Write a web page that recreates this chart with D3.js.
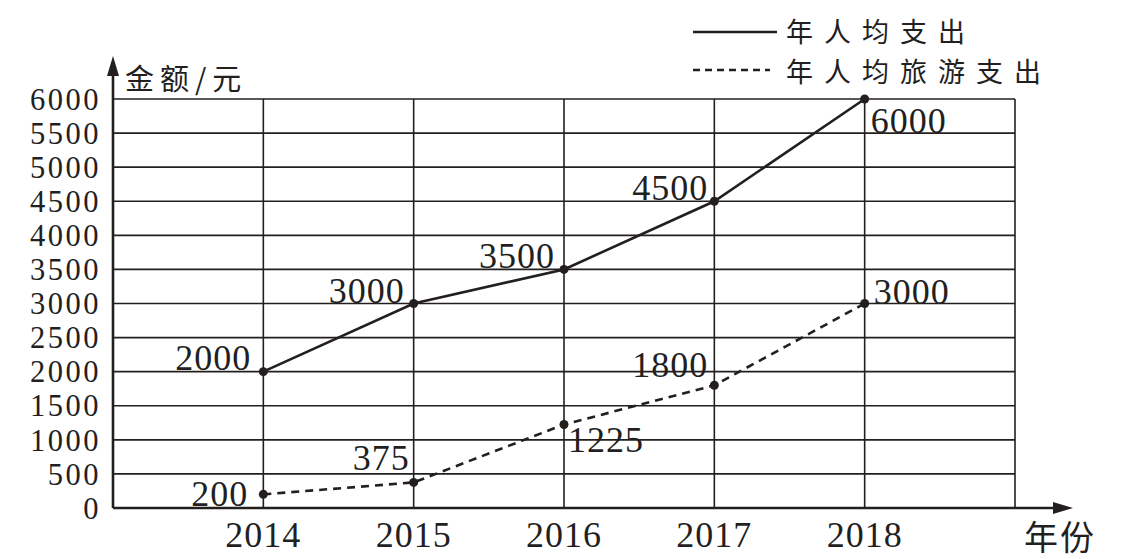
<!DOCTYPE html>
<html><head><meta charset="utf-8">
<script src="https://cdn.jsdelivr.net/npm/d3@7"></script>
<style>body{margin:0;background:#fff}svg{display:block}</style>
</head><body>
<script>
const years = [2014, 2015, 2016, 2017, 2018];
const totalSpend = [2000, 3000, 3500, 4500, 6000];
const travelSpend = [200, 375, 1225, 1800, 3000];
const yTicks = [0,500,1000,1500,2000,2500,3000,3500,4000,4500,5000,5500,6000];
const seriesNames = ["年人均支出", "年人均旅游支出"];
const yTitle = "金额/元";
const xTitle = "年份";
// label placement (styling only)
const totalLabelPos = [[-12,-2,"end"],[-9,-1,"end"],[-9,-1,"end"],[-6,-1,"end"],[6,34,"start"]];
const travelLabelPos = [[-15,12,"end"],[-4,-12,"end"],[4,28,"start"],[-6,-8,"end"],[9,0,"start"]];

const W = 1124, H = 559;
const ink = "#231f1f";
const serif = "'Liberation Serif','Times New Roman',serif";
const cjk = "'Noto Sans CJK SC','Noto Sans CJK JP',sans-serif";
const svg = d3.select("body").append("svg").attr("width", W).attr("height", H);

const x = d3.scaleLinear().domain([2013, 2019]).range([113, 1015]);
const y = d3.scaleLinear().domain([0, 6000]).range([508, 99]);

// grid
const g = svg.append("g");
g.selectAll("line.h").data(yTicks.filter(d => d > 0)).join("line")
  .attr("x1", x(2013)).attr("x2", x(2019)).attr("y1", d => y(d)).attr("y2", d => y(d))
  .attr("stroke", ink).attr("stroke-width", 1.6);
g.selectAll("line.v").data(years.concat([2019])).join("line")
  .attr("x1", d => x(d)).attr("x2", d => x(d)).attr("y1", y(0)).attr("y2", y(6000))
  .attr("stroke", ink).attr("stroke-width", 1.6);

// axes with arrows
svg.append("line").attr("x1", x(2013)).attr("x2", x(2013)).attr("y1", y(0)).attr("y2", 66)
  .attr("stroke", ink).attr("stroke-width", 2.6);
svg.append("path").attr("d", `M${x(2013)},56 L${x(2013)-6},76 L${x(2013)+6},76 Z`).attr("fill", ink);
svg.append("line").attr("x1", x(2013)).attr("x2", 1062).attr("y1", y(0)).attr("y2", y(0))
  .attr("stroke", ink).attr("stroke-width", 2.6);
svg.append("path").attr("d", `M1073,${y(0)} L1053,${y(0)-6} L1053,${y(0)+6} Z`).attr("fill", ink);

// y ticks
svg.append("g").selectAll("text").data(yTicks).join("text")
  .attr("x", 101).attr("y", d => y(d)).attr("dy", "0.35em")
  .attr("text-anchor", "end").attr("font-family", serif).attr("font-size", 30.5)
  .attr("letter-spacing", 2.5).attr("fill", ink).text(d => d);
// x ticks
svg.append("g").selectAll("text").data(years).join("text")
  .attr("x", d => x(d)).attr("y", 547)
  .attr("text-anchor", "middle").attr("font-family", serif).attr("font-size", 36)
  .attr("letter-spacing", 1).attr("fill", ink).text(d => d);

// axis titles
svg.append("text").attr("x", 125).attr("y", 90).attr("font-family", cjk).attr("font-size", 29)
  .attr("letter-spacing", 6).attr("fill", ink).text(yTitle);
svg.append("text").attr("x", 1024).attr("y", 550).attr("font-family", cjk).attr("font-size", 34)
  .attr("letter-spacing", 2).attr("fill", ink).text(xTitle);

// lines
const line = d3.line().x((d, i) => x(years[i])).y(d => y(d));
svg.append("path").datum(totalSpend).attr("d", line).attr("fill", "none")
  .attr("stroke", ink).attr("stroke-width", 2.6);
svg.append("path").datum(travelSpend).attr("d", line).attr("fill", "none")
  .attr("stroke", ink).attr("stroke-width", 2.6).attr("stroke-dasharray", "8,6");

[totalSpend, travelSpend].forEach((s, k) => {
  const pos = k === 0 ? totalLabelPos : travelLabelPos;
  svg.append("g").selectAll("circle").data(s).join("circle")
    .attr("cx", (d, i) => x(years[i])).attr("cy", d => y(d)).attr("r", 4.5).attr("fill", ink);
  svg.append("g").selectAll("text").data(s).join("text")
    .attr("x", (d, i) => x(years[i]) + pos[i][0]).attr("y", (d, i) => y(d) + pos[i][1])
    .attr("text-anchor", (d, i) => pos[i][2])
    .attr("font-family", serif).attr("font-size", 36).attr("letter-spacing", 1)
    .attr("fill", ink).text(d => d);
});

// legend
const leg = svg.append("g");
leg.append("line").attr("x1", 693).attr("x2", 777).attr("y1", 32).attr("y2", 32)
  .attr("stroke", ink).attr("stroke-width", 2.6);
leg.append("line").attr("x1", 693).attr("x2", 770).attr("y1", 70).attr("y2", 70)
  .attr("stroke", ink).attr("stroke-width", 2.6).attr("stroke-dasharray", "7,5");
leg.selectAll("text").data(seriesNames).join("text")
  .attr("x", 786).attr("y", (d, i) => 32 + i * 40).attr("dy", "0.36em")
  .attr("font-family", cjk).attr("font-size", 27).attr("letter-spacing", 11)
  .attr("fill", ink).text(d => d);
</script>
</body></html>
